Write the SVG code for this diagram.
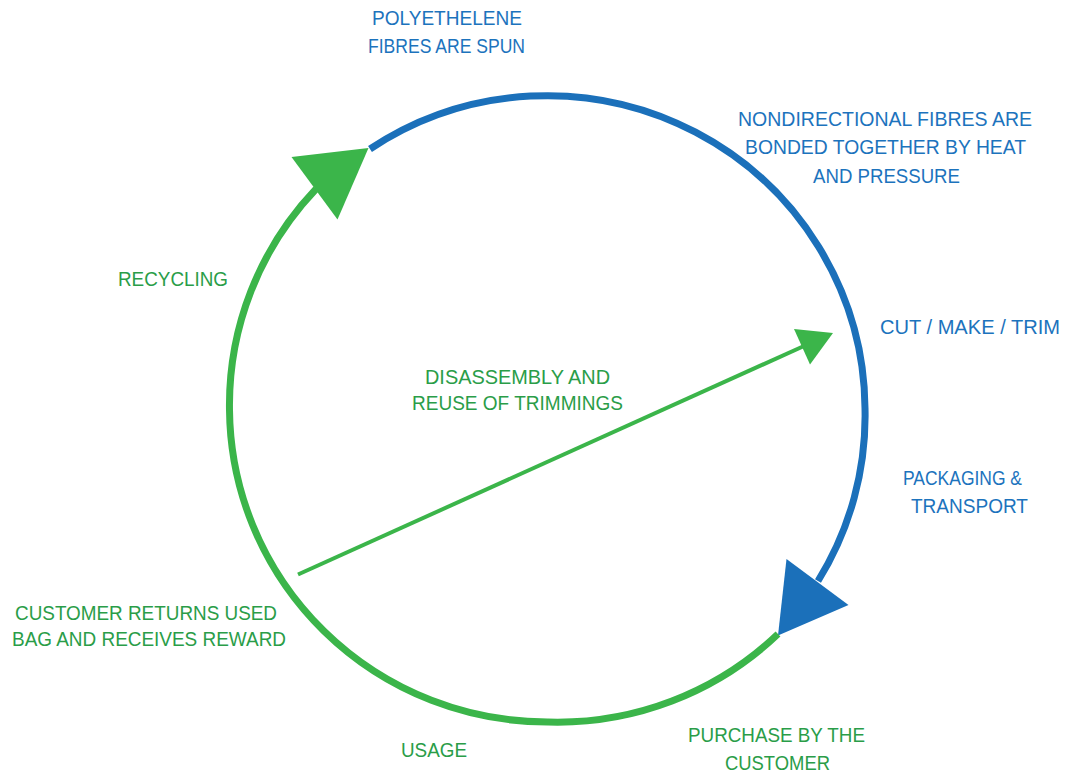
<svg xmlns="http://www.w3.org/2000/svg" width="1067" height="776" viewBox="0 0 1067 776">
  <style>
    .lbl { font-family: "Liberation Sans", Arial, sans-serif; font-size: 21px; }
    .blue-t { fill: #1c73bd; }
    .green-t { fill: #2a9d48; }
    .ring { fill: none; stroke-width: 7; stroke-linecap: butt; }
    .blue-s { stroke: #1b70ba; }
    .green-s { stroke: #3bb54a; }
    .blue-f { fill: #1b70ba; }
    .green-f { fill: #3bb54a; }
  </style>
  <rect width="1067" height="776" fill="#ffffff"/>

  <!-- cycle connectors -->
  <g id="connectors">
    <!-- production half of the cycle -->
    <path class="ring blue-s" d="M 370,149 A 318 315 0 0 1 865,408 A 318 315 0 0 1 818,581"/>
    <polygon class="blue-f" points="786.5,559 848.5,605 778,635.5"/>
    <!-- use and return half of the cycle -->
    <path class="ring green-s" d="M 778,634 A 318 315 0 0 1 548,722 A 318 315 0 0 1 229.5,410 A 318 315 0 0 1 316,189"/>
    <polygon class="green-f" points="291.5,157 368.5,148 337.5,219.5"/>
    <!-- shortcut back to cutting -->
    <line x1="298" y1="574.5" x2="804" y2="346" stroke="#3bb54a" stroke-width="4"/>
    <polygon class="green-f" points="794,329 833,333 810,364.5"/>
  </g>

  <g id="node-spun">
    <text class="lbl blue-t" x="372" y="25" textLength="150" lengthAdjust="spacingAndGlyphs">POLYETHELENE</text>
    <text class="lbl blue-t" x="368" y="53" textLength="157" lengthAdjust="spacingAndGlyphs">FIBRES ARE SPUN</text>
  </g>

  <g id="node-bonded">
    <text class="lbl blue-t" x="738" y="125.5" textLength="294" lengthAdjust="spacingAndGlyphs">NONDIRECTIONAL FIBRES ARE</text>
    <text class="lbl blue-t" x="745" y="153.5" textLength="281" lengthAdjust="spacingAndGlyphs">BONDED TOGETHER BY HEAT</text>
    <text class="lbl blue-t" x="813" y="182.5" textLength="147" lengthAdjust="spacingAndGlyphs">AND PRESSURE</text>
  </g>

  <g id="node-cut">
    <text class="lbl blue-t" x="880" y="333.5" textLength="180" lengthAdjust="spacingAndGlyphs">CUT / MAKE / TRIM</text>
  </g>

  <g id="node-packaging">
    <text class="lbl blue-t" x="903" y="484.5" textLength="119" lengthAdjust="spacingAndGlyphs">PACKAGING &amp;</text>
    <text class="lbl blue-t" x="911" y="512.5" textLength="117" lengthAdjust="spacingAndGlyphs">TRANSPORT</text>
  </g>

  <g id="node-purchase">
    <text class="lbl green-t" x="688" y="742" textLength="177" lengthAdjust="spacingAndGlyphs">PURCHASE BY THE</text>
    <text class="lbl green-t" x="725" y="770" textLength="105" lengthAdjust="spacingAndGlyphs">CUSTOMER</text>
  </g>

  <g id="node-usage">
    <text class="lbl green-t" x="401" y="756.5" textLength="66" lengthAdjust="spacingAndGlyphs">USAGE</text>
  </g>

  <g id="node-returns">
    <text class="lbl green-t" x="15" y="619.5" textLength="262" lengthAdjust="spacingAndGlyphs">CUSTOMER RETURNS USED</text>
    <text class="lbl green-t" x="12" y="646" textLength="274" lengthAdjust="spacingAndGlyphs">BAG AND RECEIVES REWARD</text>
  </g>

  <g id="node-recycling">
    <text class="lbl green-t" x="118" y="285.5" textLength="110" lengthAdjust="spacingAndGlyphs">RECYCLING</text>
  </g>

  <g id="node-disassembly">
    <text class="lbl green-t" x="425" y="383.5" textLength="185" lengthAdjust="spacingAndGlyphs">DISASSEMBLY AND</text>
    <text class="lbl green-t" x="412" y="410" textLength="211" lengthAdjust="spacingAndGlyphs">REUSE OF TRIMMINGS</text>
  </g>
</svg>
